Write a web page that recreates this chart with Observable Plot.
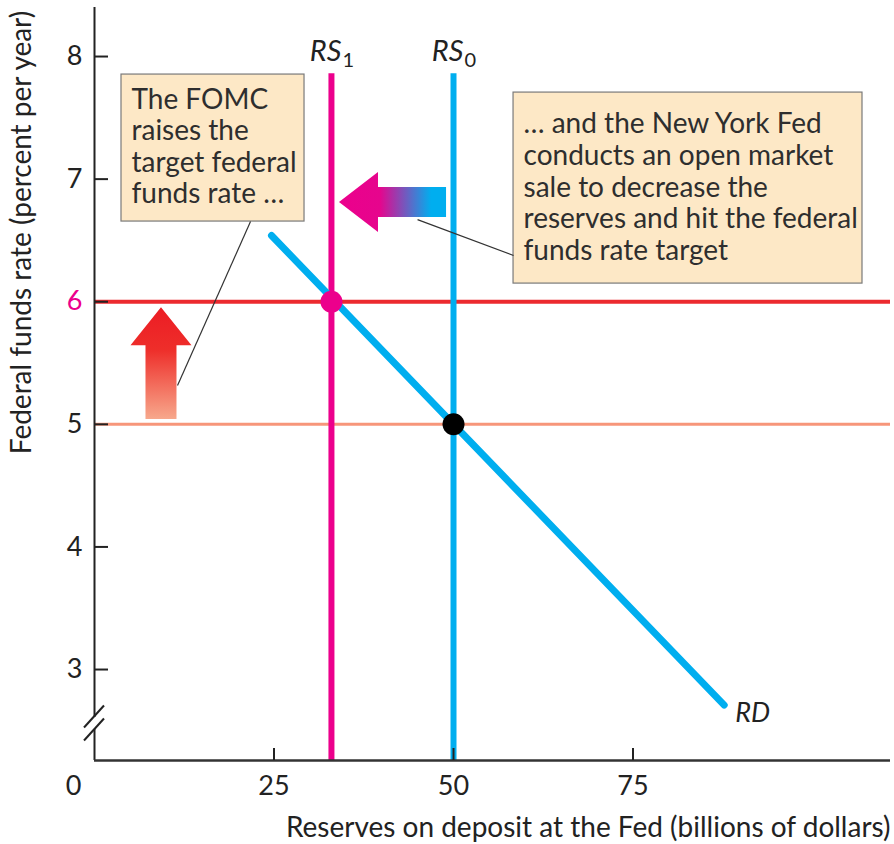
<!DOCTYPE html>
<html><head><meta charset="utf-8">
<script src="https://cdn.jsdelivr.net/npm/d3@7"></script>
<script src="https://cdn.jsdelivr.net/npm/@observablehq/plot@0.6"></script>
<style>body{margin:0;background:#fff}#chart{width:894px;height:844px}</style>
</head><body><div id="chart"></div>
<script>
// ---------- data ----------
const xTickValues = [0, 25, 50, 75];
const xTickLabels = ["0", "25", "50", "75"];
const yTickValues = [3, 4, 5, 6, 7, 8];
const yTickLabels = ["3", "4", "5", "6", "7", "8"];
const supplyNames = ["RS", "RS"];
const supplySubs = ["0", "1"];
const supplyReserves = [50, 33];
const demandReserves = [24.65, 87.7];
const demandRates = [6.54, 2.71];
const targetRates = [5, 6];
const eqReserves = [50, 33];
const eqRates = [5, 6];
const noteTexts = [
  "The FOMC\nraises the\ntarget federal\nfunds rate \u2026",
  "\u2026 and the New York Fed\nconducts an open market\nsale to decrease the\nreserves and hit the federal\nfunds rate target"
];
// annotation geometry in data units (reserves, rate)
const noteBoxX1 = [3.76, 58.36], noteBoxX2 = [29.25, 106.96];
const noteBoxTop = [7.853, 7.706], noteBoxBottom = [6.654, 6.148];
const leaderFrom = [[21.73, 6.654], [58.36, 6.377]];
const leaderTo = [[11.56, 5.316], [44.99, 6.67]];
const arrowTail = [[9.33, 5.04], [49.03, 6.81]];
const arrowTip = [[9.33, 5.95], [34.12, 6.81]];

// ---------- layout ----------
const W = 894, H = 844;
const mL = 94, mR = 4, mT = 0, mB = 84;
const xDomain = [0, 110.86], yDomain = [2.258, 8.457];
const axisTop = 8.40, supplyTop = 7.86;
const pxX = (W - mL - mR) / (xDomain[1] - xDomain[0]);
const pxY = (H - mT - mB) / (yDomain[1] - yDomain[0]);
const FONT = "Lato, 'Open Sans', sans-serif";
const CYAN = "#00aeef", MAG = "#ec008c", RED = "#ec2a2f", SALMON = "#f7967a";
const eqColors = ["#000", MAG];
const targetColors = [SALMON, RED];
const targetWidths = [3, 4];
const supplyColors = [CYAN, MAG];

const supply = supplyReserves.map((r, i) => ({reserves: r, name: supplyNames[i], sub: supplySubs[i], color: supplyColors[i]}));
const demand = demandReserves.map((r, i) => ({reserves: r, rate: demandRates[i]}));
const targets = targetRates.map((r, i) => ({rate: r, color: targetColors[i], w: targetWidths[i]}));
const eqs = eqReserves.map((r, i) => ({reserves: r, rate: eqRates[i], color: eqColors[i]}));
const notes = noteTexts.map((t, i) => ({text: t, x1: noteBoxX1[i], x2: noteBoxX2[i], y1: noteBoxTop[i], y2: noteBoxBottom[i]}));
const leaders = leaderFrom.map((f, i) => ({x1: f[0], y1: f[1], x2: leaderTo[i][0], y2: leaderTo[i][1]}));
const yTicks = yTickValues.map((v, i) => ({v, label: yTickLabels[i]}));
const xTicks = xTickValues.map((v, i) => ({v, label: xTickLabels[i]}));
const y0 = yDomain[0];

const plot = Plot.plot({
  width: W, height: H,
  marginLeft: mL, marginRight: mR, marginTop: mT, marginBottom: mB,
  x: {domain: xDomain, axis: null},
  y: {domain: yDomain, axis: null},
  style: {fontFamily: FONT, background: "#fff", color: "#222", overflow: "visible"},
  marks: [
    // annotation boxes
    Plot.rect(notes, {x1: "x1", x2: "x2", y1: "y1", y2: "y2", fill: "#fde8c6", stroke: "#7a7a7a", strokeWidth: 1.2}),
    Plot.text(notes.slice(0, 1), {x: "x1", y: "y1", text: "text", textAnchor: "start", lineAnchor: "top", dx: 10, dy: 12, fontSize: 28, lineHeight: 1.12, fill: "#2e2e2e"}),
    Plot.text(notes.slice(1), {x: "x1", y: "y1", text: "text", textAnchor: "start", lineAnchor: "top", dx: 10, dy: 18, fontSize: 28, lineHeight: 1.134, fill: "#2e2e2e"}),
    // target rate lines
    Plot.ruleY(targets, {y: "rate", x1: 0, x2: xDomain[1], stroke: "color", strokeWidth: "w"}),
    // supply curves
    Plot.ruleX(supply, {x: "reserves", y1: y0, y2: supplyTop, stroke: "color", strokeWidth: 6}),
    // demand curve
    Plot.line(demand, {x: "reserves", y: "rate", stroke: CYAN, strokeWidth: 7}),
    // equilibria
    Plot.dot(eqs, {x: "reserves", y: "rate", r: 11, fill: "color"}),
    // axes
    Plot.ruleX([0], {y1: y0, y2: axisTop, stroke: "#222", strokeWidth: 2}),
    Plot.ruleY([y0], {x1: 0, x2: xDomain[1], stroke: "#333", strokeWidth: 2.5}),
    Plot.ruleY(yTicks, {y: "v", x1: 0, x2: 14 / pxX, stroke: "#222", strokeWidth: 2}),
    Plot.ruleX(xTicks.filter(d => d.v > 0), {x: "v", y1: y0, y2: y0 + 12 / pxY, stroke: "#222", strokeWidth: 2}),
    Plot.text(yTicks, {x: 0, y: "v", text: "label", textAnchor: "end", dx: -12, fontSize: 27, fill: d => d.v === 6 ? MAG : "#222"}),
    Plot.text(xTicks.filter(d => d.v > 0), {x: "v", y: y0, text: "label", dy: 26, fontSize: 27, fill: "#222"}),
    Plot.text(xTicks.filter(d => d.v === 0), {x: "v", y: y0, text: "label", dy: 26, dx: -21, fontSize: 27, fill: "#222"}),
    // axis titles
    Plot.text(["Reserves on deposit at the Fed (billions of dollars)"], {frameAnchor: "bottom-right", text: d => d, textAnchor: "end", lineAnchor: "middle", dy: 68, fontSize: 28, fill: "#222"}),
    Plot.text(["Federal funds rate (percent per year)"], {frameAnchor: "top-left", text: d => d, rotate: -90, textAnchor: "middle", lineAnchor: "middle", dx: -72, dy: 232, fontSize: 28, fill: "#222"}),
    // curve labels
    Plot.text(supply, {x: "reserves", y: supplyTop, text: "name", textAnchor: "end", dx: 10, dy: -22, fontSize: 29, fontStyle: "italic", fill: "#222"}),
    Plot.text(supply, {x: "reserves", y: supplyTop, text: "sub", textAnchor: "start", dx: 11, dy: -13, fontSize: 20, fill: "#222"}),
    Plot.text(demand.slice(-1), {x: "reserves", y: "rate", text: () => "RD", textAnchor: "start", dx: 11, dy: 8, fontSize: 27, fontStyle: "italic", fill: "#222"}),
    // leader lines
    Plot.link(leaders, {x1: "x1", y1: "y1", x2: "x2", y2: "y2", stroke: "#333", strokeWidth: 1.2})
  ]
});

// ---------- gradient arrows (positioned through Plot's scales) ----------
const sx = plot.scale("x"), sy = plot.scale("y");
const fx = d3.scaleLinear().domain(sx.domain).range(sx.range);
const fy = d3.scaleLinear().domain(sy.domain).range(sy.range);
const svg = d3.select(plot);
const defs = svg.insert("defs", ":first-child");
const g1 = defs.append("linearGradient").attr("id", "upGrad").attr("x1", 0).attr("y1", 1).attr("x2", 0).attr("y2", 0);
g1.append("stop").attr("offset", 0).attr("stop-color", "#f7a88c");
g1.append("stop").attr("offset", 0.62).attr("stop-color", "#ee2e2a");
g1.append("stop").attr("offset", 1).attr("stop-color", "#ec1c24");
const g2 = defs.append("linearGradient").attr("id", "leftGrad").attr("x1", 0).attr("y1", 0).attr("x2", 1).attr("y2", 0);
g2.append("stop").attr("offset", 0).attr("stop-color", MAG);
g2.append("stop").attr("offset", 0.38).attr("stop-color", "#e6058d");
g2.append("stop").attr("offset", 0.86).attr("stop-color", CYAN);
g2.append("stop").attr("offset", 1).attr("stop-color", CYAN);

function arrowPath(tail, tip, sw, hw, hl) {
  const x0 = fx(tail[0]), y0p = fy(tail[1]), x1 = fx(tip[0]), y1 = fy(tip[1]);
  const len = Math.hypot(x1 - x0, y1 - y0p), ux = (x1 - x0) / len, uy = (y1 - y0p) / len;
  const nx = -uy, ny = ux, bx = x1 - ux * hl, by = y1 - uy * hl;
  const p = [[x0 + nx * sw, y0p + ny * sw], [bx + nx * sw, by + ny * sw], [bx + nx * hw, by + ny * hw], [x1, y1],
             [bx - nx * hw, by - ny * hw], [bx - nx * sw, by - ny * sw], [x0 - nx * sw, y0p - ny * sw]];
  return "M" + p.map(q => q.join(",")).join("L") + "Z";
}
const arrowLayer = svg.append("g");
arrowLayer.append("path").attr("d", arrowPath(arrowTail[0], arrowTip[0], 15.5, 30.5, 38)).attr("fill", "url(#upGrad)");
arrowLayer.append("path").attr("d", arrowPath(arrowTail[1], arrowTip[1], 15, 30, 39)).attr("fill", "url(#leftGrad)");

// axis break marks on the y axis
const brk = fy(2.56), ax = fx(0);
const br = svg.append("g");
br.append("rect").attr("x", ax - 3).attr("y", brk - 6).attr("width", 6).attr("height", 12).attr("fill", "#fff");
[-6.5, 6.5].forEach(o => br.append("line").attr("x1", ax - 10).attr("y1", brk + o + 11).attr("x2", ax + 10).attr("y2", brk + o - 11)
  .attr("stroke", "#222").attr("stroke-width", 2));

document.getElementById("chart").appendChild(plot);
</script></body></html>
